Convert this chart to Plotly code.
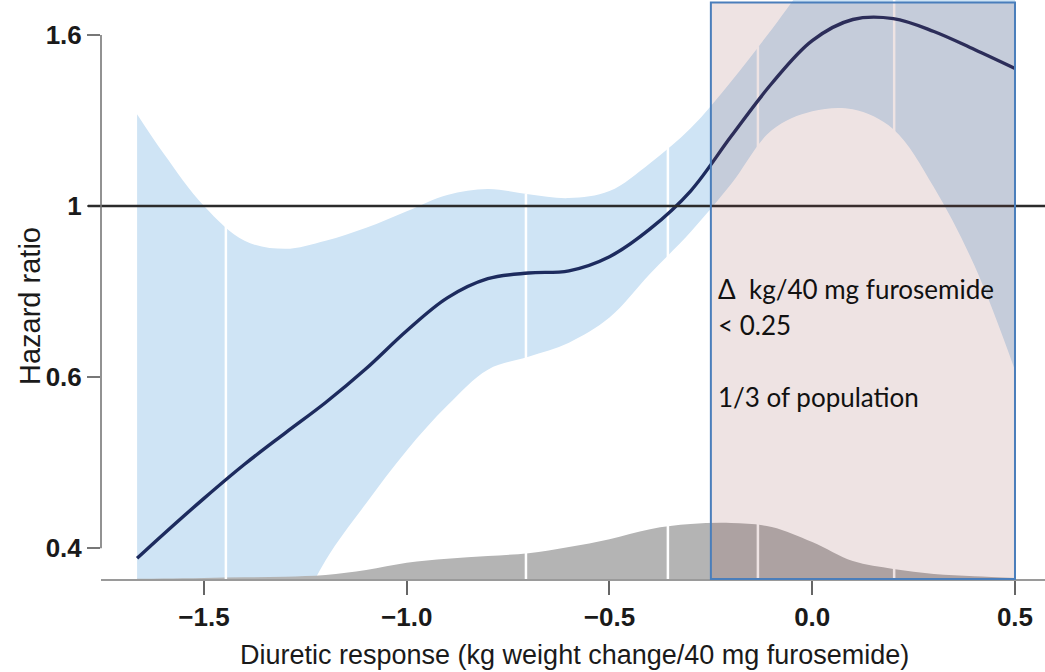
import numpy as np
import plotly.graph_objects as go

# ---- data ----
x_grid = [-1.665, -1.6, -1.5, -1.4, -1.3, -1.2, -1.1, -1.0, -0.9, -0.8, -0.7, -0.6,
          -0.5, -0.4, -0.3, -0.2, -0.1, 0.0, 0.1, 0.2, 0.3, 0.4, 0.5]
hazard_ratio = [0.380, 0.406, 0.448, 0.492, 0.536, 0.583, 0.640, 0.710, 0.777, 0.819,
                0.832, 0.837, 0.870, 0.939, 1.042, 1.211, 1.400, 1.575, 1.669, 1.673,
                1.615, 1.537, 1.459]
ci_upper = [1.287, 1.156, 1.000, 0.909, 0.889, 0.909, 0.942, 0.986, 1.031, 1.048,
            1.033, 1.022, 1.042, 1.125, 1.238, 1.408, 1.624, 1.877, 2.066, 2.18,
            2.18, 2.12, 2.07]
ci_lower = [0.149, 0.171, 0.202, 0.244, 0.304, 0.378, 0.442, 0.511, 0.578, 0.638,
            0.661, 0.687, 0.736, 0.830, 0.931, 1.062, 1.231, 1.297, 1.304, 1.235,
            1.053, 0.849, 0.637]
density = [0.005, 0.01, 0.02, 0.03, 0.04, 0.07, 0.16, 0.29, 0.36, 0.41, 0.46, 0.57,
           0.71, 0.89, 0.98, 1.0, 0.93, 0.66, 0.32, 0.18, 0.09, 0.05, 0.02]
quantile_lines = [-1.446, -0.706, -0.356, -0.134, 0.202]

x_ticks = [-1.5, -1.0, -0.5, 0.0, 0.5]
y_ticks = [0.390625, 0.625, 1.0, 1.6]
y_ticktext = ["0.4", "0.6", "1", "1.6"]
highlight_x = [-0.25, 0.5]
box_lines = ["\u0394\u00a0\u00a0kg/40 mg furosemide", "< 0.25", "1/3 of population"]
x_title = "Diuretic response (kg weight change/40 mg furosemide)"
y_title = "Hazard ratio"

# ---- geometry ----
W, H = 1045, 672
ML, MR, MT, MB = 101, 0, 0, 93
plot_h = H - MT - MB
x_range = [-1.754, 0.574]
y_range = [np.log10(0.3590), np.log10(1.7609)]
y_bottom = 10 ** y_range[0]

BAND = "rgb(207,228,245)"
DENS = "rgb(180,180,180)"
CURVE = "#1d2b5e"

fig = go.Figure()

# confidence band (log axis)
fig.add_trace(go.Scatter(x=x_grid, y=ci_lower, mode="lines", line=dict(width=0, shape="spline"),
                         hoverinfo="skip", showlegend=False, yaxis="y"))
fig.add_trace(go.Scatter(x=x_grid, y=ci_upper, mode="lines", line=dict(width=0, shape="spline"),
                         fill="tonexty", fillcolor=BAND, hoverinfo="skip", showlegend=False, yaxis="y"))

# density (linear overlay axis)
fig.add_trace(go.Scatter(x=x_grid, y=density, mode="lines", line=dict(width=0, shape="spline"),
                         fill="tozeroy", fillcolor=DENS, hoverinfo="skip", showlegend=False, yaxis="y2"))

# white quantile lines (log overlay axis drawn above density)
wx, wy = [], []
for q in quantile_lines:
    top = float(np.interp(q, x_grid, ci_upper))
    wx += [q, q, None]
    wy += [y_bottom, top, None]
fig.add_trace(go.Scatter(x=wx, y=wy, mode="lines", line=dict(color="white", width=2.5),
                         hoverinfo="skip", showlegend=False, yaxis="y3"))

# hazard ratio curve
fig.add_trace(go.Scatter(x=x_grid, y=hazard_ratio, mode="lines",
                         line=dict(color=CURVE, width=3.4, shape="spline"),
                         showlegend=False, yaxis="y3"))

shapes = [
    # reference line at HR = 1
    dict(type="line", xref="paper", yref="y", x0=-13 / (W - ML - MR), x1=1, y0=1, y1=1,
         line=dict(color="#2b2b2b", width=2.6), layer="above"),
    # y axis line spanning the ticks only
    dict(type="line", xref="paper", yref="y", x0=0, x1=0, y0=min(y_ticks), y1=max(y_ticks),
         line=dict(color="#777777", width=1.6), layer="above"),
    # highlight box
    dict(type="rect", xref="x", yref="paper", x0=highlight_x[0], x1=highlight_x[1],
         y0=0, y1=1 - 2.5 / plot_h, line=dict(color="#4a7ebb", width=2),
         fillcolor="rgba(140,60,60,0.145)", layer="above"),
]

annotations = []
box_centers_px = [289, 325, 397]
for txt, py in zip(box_lines, box_centers_px):
    annotations.append(dict(text=txt, xref="x", yref="paper", x=-0.238, y=1 - py / plot_h,
                            xanchor="left", yanchor="middle", showarrow=False,
                            font=dict(family="Lato", size=26, color="#111111")))
annotations.append(dict(text=x_title, xref="paper", yref="paper", x=(574 - ML) / (W - ML - MR),
                        y=(plot_h - 655) / plot_h, xanchor="center", yanchor="middle",
                        showarrow=False, font=dict(family="Liberation Sans", size=27, color="#1a1a1a")))
annotations.append(dict(text=y_title, xref="paper", yref="paper", x=(30 - ML) / (W - ML - MR),
                        y=1 - 306 / plot_h, xanchor="center", yanchor="middle", textangle=-90,
                        showarrow=False, font=dict(family="Liberation Sans", size=29, color="#1a1a1a")))

fig.update_layout(
    width=W, height=H,
    margin=dict(l=ML, r=MR, t=MT, b=MB),
    paper_bgcolor="white", plot_bgcolor="rgba(0,0,0,0)",
    showlegend=False,
    shapes=shapes, annotations=annotations,
    xaxis=dict(range=x_range, tickvals=x_ticks, tickformat=".1f", ticks="outside", ticklen=14,
               tickwidth=1.6, tickcolor="#666666", showline=True, linecolor="#9a9a9a", linewidth=2,
               showgrid=False, zeroline=False,
               tickfont=dict(family="Liberation Sans", size=26, color="#1a1a1a", weight="bold")),
    yaxis=dict(type="log", range=y_range, tickvals=y_ticks, ticktext=y_ticktext, ticks="outside",
               ticklen=13, tickwidth=1.6, tickcolor="#777777", showline=False, showgrid=False,
               zeroline=False,
               tickfont=dict(family="Liberation Sans", size=26, color="#1a1a1a", weight="bold")),
    yaxis2=dict(overlaying="y", range=[0, plot_h / 56], visible=False, showgrid=False),
    yaxis3=dict(overlaying="y", type="log", range=y_range, visible=False, showgrid=False),
)

fig.write_html("out.html")
